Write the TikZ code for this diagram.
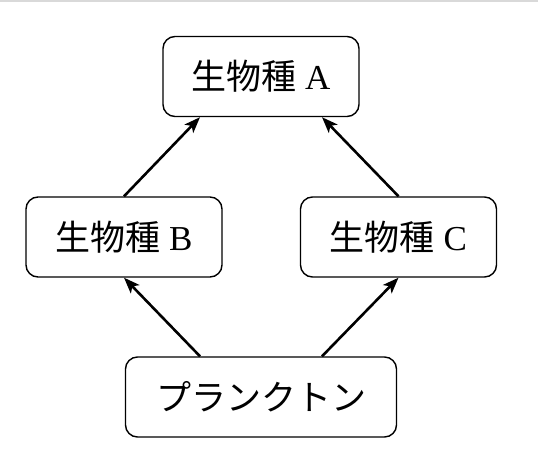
\documentclass[tikz,border=0pt]{standalone}
\usepackage{fontspec}
\setmainfont{Liberation Serif}
\newfontfamily\jpfont{Noto Sans CJK JP}
\usetikzlibrary{arrows.meta}
\tikzset{
  espece/.style={draw, line width=1.4pt, rounded corners=12pt, minimum height=80pt, font=\fontsize{35}{40}\selectfont},
  fleche/.style={line width=2.6pt, -{Stealth[length=16pt,width=12pt,inset=4pt]}}
}
\begin{document}
\begin{tikzpicture}[x=1pt,y=-1pt]
\useasboundingbox (0,0) rectangle (538,471);
\draw[black!15, line width=2pt] (0,1) -- (538,1);
\node[espece, minimum width=196pt] (A) at (261,76.5) {{\jpfont 生物種} A};
\node[espece, minimum width=196pt] (B) at (124,237) {{\jpfont 生物種} B};
\node[espece, minimum width=196pt] (C) at (398.5,237) {{\jpfont 生物種} C};
\node[espece, minimum width=271pt] (P) at (261,397) {\jpfont プランクトン};
\draw[fleche] (B.north) -- ([xshift=-61pt]A.south);
\draw[fleche] (C.north) -- ([xshift=61pt]A.south);
\draw[fleche] ([xshift=-61pt]P.north) -- (B.south);
\draw[fleche] ([xshift=61pt]P.north) -- (C.south);
\end{tikzpicture}
\end{document}
